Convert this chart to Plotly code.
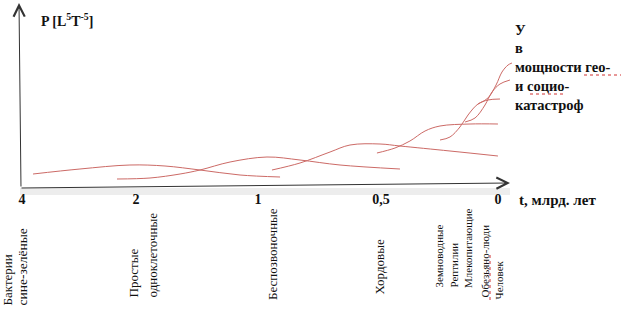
import plotly.graph_objects as go

# ---- axis ticks (time, billion years) ----
tick_labels = ["4", "2", "1", "0,5", "0"]
tick_pos = [0.0, 0.96, 1.987, 3.023, 4.008]

# ---- S-curves (x: position on time axis, y: P in arbitrary units) ----
bact_x = [0.093, 0.488, 0.909, 1.204, 1.499, 1.836, 2.173]
bact_y = [6, 8.5, 10.5, 10, 8, 5.5, 4.5]

prost_x = [0.80, 1.078, 1.331, 1.499, 1.752, 2.063, 2.341, 2.678, 3.183]
prost_y = [3.5, 4, 6, 8, 12, 14.5, 13, 10.5, 8.5]

bespoz_x = [2.105, 2.341, 2.594, 2.762, 3.015, 3.183, 3.604, 4.008]
bespoz_y = [8, 11.5, 17, 20.5, 21, 20, 17.5, 15]

chord_x = [2.989, 3.141, 3.267, 3.394, 3.520, 3.773, 4.008]
chord_y = [16.5, 19, 22.5, 27.5, 30, 31, 31]

zemn_x = [3.52, 3.604, 3.688, 3.756, 3.84, 3.924, 4.025]
zemn_y = [23, 24.5, 29.5, 35.5, 41, 43, 43.5]

mlek_x = [3.731, 3.815, 3.899, 3.958, 4.025, 4.109]
mlek_y = [32, 34, 40.5, 47, 51, 53]

chel_x = [3.84, 3.924, 3.992, 4.042, 4.093, 4.126]
chel_y = [41, 44, 50.5, 57, 60.5, 61.5]

curves = [(bact_x, bact_y), (prost_x, prost_y), (bespoz_x, bespoz_y),
          (chord_x, chord_y), (zemn_x, zemn_y), (mlek_x, mlek_y), (chel_x, chel_y)]

# ---- taxa labels under the axis ----
taxa = ["Бактерии", "сине-зелёные", "Простые", "одноклеточные", "Беспозвоночные",
        "Хордовые", "Земноводные", "Рептилии", "Млекопитающие", "Обезьяно-люди", "Человек"]

right_lines = ["У", "в", "мощности гео-", "и социо-", "катастроф"]

RED = "#cc6a66"
SERIF = "Liberation Serif"

fig = go.Figure()
for cx, cy in curves:
    fig.add_trace(go.Scatter(x=cx, y=cy, mode="lines",
                             line=dict(color=RED, width=1, shape="spline", smoothing=1.0),
                             hoverinfo="skip", showlegend=False))

W, H = 621, 309
AX_Y = 186  # pixel row of the x-axis

def px2u(px):
    return (px - 22) / 118.75

def py2paper(py):
    return (AX_Y - py) / AX_Y

ann = []
# axes arrows
ann.append(dict(x=px2u(510), y=1.5, xref="x", yref="y", ax=-490, ay=5,
                axref="pixel", ayref="pixel", showarrow=True, arrowhead=5,
                arrowsize=2.2, arrowwidth=1, arrowcolor="#333", text=""))
ann.append(dict(x=px2u(19), y=91.5, xref="x", yref="y", ax=2, ay=185,
                axref="pixel", ayref="pixel", showarrow=True, arrowhead=5,
                arrowsize=2.2, arrowwidth=1, arrowcolor="#333", text=""))

# y title
ann.append(dict(x=px2u(39), y=py2paper(20), xref="x", yref="paper", xanchor="left",
                yanchor="middle", showarrow=False,
                text="<b>P [L<sup>5</sup>T<sup>-5</sup>]</b>",
                font=dict(family=SERIF, size=14, color="#111")))
# x title
ann.append(dict(x=px2u(517), y=py2paper(200), xref="x", yref="paper", xanchor="left",
                yanchor="middle", showarrow=False, text="<b>t, млрд. лет</b>",
                font=dict(family=SERIF, size=15, color="#111")))

# taxa (rotated)
taxa_px = [7, 22, 133, 152, 272, 379, 438, 453, 468, 484, 498]
taxa_bottom = [308, 308, 300, 300, 302, 297, 290, 290, 290, 300, 302]
taxa_size = [13, 13.5, 13, 13, 13, 13, 11, 11, 11, 11, 11]
for t, px, pb, fs in zip(taxa, taxa_px, taxa_bottom, taxa_size):
    ann.append(dict(x=px2u(px), y=py2paper(pb), xref="x", yref="paper",
                    xanchor="center", yanchor="bottom", textangle=-90,
                    showarrow=False, text=t,
                    font=dict(family=SERIF, size=fs, color="#111")))

# right text block
right_py = [30, 48, 67, 86, 105]
for t, py in zip(right_lines, right_py):
    ann.append(dict(x=px2u(513), y=py2paper(py), xref="x", yref="paper",
                    xanchor="left", yanchor="middle", showarrow=False,
                    text="<b>" + t + "</b>",
                    font=dict(family=SERIF, size=14.5, color="#111")))

# decorative: scan shadow under the axis and spell-check underlines
shapes = [
    dict(type="rect", xref="paper", yref="paper", x0=20 / W, x1=510 / W,
         y0=py2paper(195), y1=py2paper(188), fillcolor="rgba(0,0,0,0.07)",
         line=dict(width=0), layer="below"),
    dict(type="line", xref="paper", yref="paper", x0=584 / W, x1=621 / W,
         y0=py2paper(75), y1=py2paper(75), line=dict(color="#d03030", width=1, dash="dot")),
    dict(type="line", xref="paper", yref="paper", x0=530 / W, x1=566 / W,
         y0=py2paper(94), y1=py2paper(94), line=dict(color="#d03030", width=1, dash="dot")),
    dict(type="line", xref="paper", yref="paper", x0=490 / W, x1=490 / W,
         y0=py2paper(300), y1=py2paper(254), line=dict(color="#d03030", width=1, dash="dot")),
]

fig.update_layout(
    width=W, height=H,
    margin=dict(l=0, r=0, t=0, b=H - AX_Y, pad=0),
    paper_bgcolor="white", plot_bgcolor="white",
    font=dict(family=SERIF),
    xaxis=dict(range=[px2u(0), px2u(W)], showgrid=False, zeroline=False,
               showline=False, ticks="", tickvals=tick_pos, ticktext=tick_labels,
               tickfont=dict(family=SERIF, size=14, color="#111", weight="bold"),
               ticklabelstandoff=3, fixedrange=True),
    yaxis=dict(range=[0, AX_Y / 2], showgrid=False, zeroline=False,
               showline=False, showticklabels=False, ticks="", fixedrange=True),
    annotations=ann,
    shapes=shapes,
    showlegend=False,
)

fig.write_html("out.html", config={"displayModeBar": False},
               post_script="document.body.style.margin='0';document.body.style.padding='0';")
